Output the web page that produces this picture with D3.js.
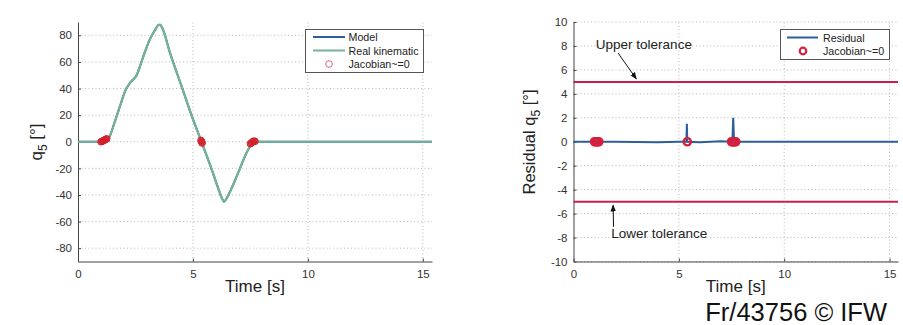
<!DOCTYPE html>
<html>
<head>
<meta charset="utf-8">
<script src="https://cdn.jsdelivr.net/npm/d3@7"></script>
<style>
  body { margin: 0; background: #fff; }
  svg { display: block; font-family: "Liberation Sans", Arial, sans-serif; }
</style>
</head>
<body>
<script>
// joint angle q5 (model and real kinematic overlap)
var timeQ = [0, 1.0, 1.2, 1.35, 1.6, 1.85, 2.05, 2.3, 2.55, 2.8, 3.1, 3.35, 3.48, 3.57, 3.68, 4.0, 4.5, 5.0, 5.35, 5.5, 5.8, 6.1, 6.25, 6.35, 6.45, 6.6, 7.0, 7.4, 7.6, 7.8, 8.0, 15.4];
var q5Values = [0, 0, 0.5, 3, 15, 28, 38, 45, 50, 62, 76, 84, 87.5, 88, 85, 67, 42, 17, 1, -6, -20, -35, -42, -45, -43, -38, -22, -6, -1.5, 0, 0, 0];

// residual of q5
var timeRes = [0, 2, 4, 5.0, 5.36, 5.38, 5.40, 6.0, 7.0, 7.54, 7.58, 7.62, 7.7, 9, 15.4];
var residualValues = [0, 0, -0.05, 0, 0, 1.5, 0, -0.05, 0.05, 0, 2.0, 0, 0, 0, 0];

// Jacobian ~= 0 markers
var jacLeftT = [1.0, 1.05, 1.1, 1.15, 1.2, 1.25, 5.35, 5.38, 5.40, 7.5, 7.55, 7.6, 7.65, 7.7];
var jacLeftY = [0, 0.3, 0.8, 1.2, 1.8, 2.2, 1, 0, -1, -1.5, -0.8, 0, 0.5, 0.3];
var jacRightT = [1.0, 1.05, 1.1, 1.15, 1.2, 5.4, 7.5, 7.55, 7.6, 7.65, 7.7];
var jacRightY = [0, 0, 0, 0, 0, 0, 0, 0, 0, 0, 0];

var tolerance = [5, -5];
var xTicks = [0, 5, 10, 15];
var leftYTicks = [-80, -60, -40, -20, 0, 20, 40, 60, 80];
var rightYTicks = [-10, -8, -6, -4, -2, 0, 2, 4, 6, 8, 10];

var blue = "#2c5f98", green = "#74b396", red = "#d51f3f", tolRed = "#c8204a";

var svg = d3.select("body").append("svg").attr("width", 903).attr("height", 325);

function panel(cfg) {
  var g = svg.append("g");
  var x = d3.scaleLinear().domain([0, 15.4]).range([cfg.left, cfg.right]);
  var y = d3.scaleLinear().domain(cfg.yDomain).range([261.5, 22]);

  // dotted grid
  g.append("g").selectAll("line.v").data(xTicks.filter(function(d){ return d > 0; })).enter().append("line")
    .attr("x1", function(d){ return x(d); }).attr("x2", function(d){ return x(d); })
    .attr("y1", y.range()[0]).attr("y2", y.range()[1])
    .attr("stroke", "#b8b8b8").attr("stroke-dasharray", "1,2.5");
  g.append("g").selectAll("line.h").data(cfg.yTicks).enter().append("line")
    .attr("x1", x.range()[0]).attr("x2", x.range()[1])
    .attr("y1", function(d){ return y(d); }).attr("y2", function(d){ return y(d); })
    .attr("stroke", "#b8b8b8").attr("stroke-dasharray", "1,2.5");

  var fmt = function(d){ return String(d); };
  var xAxis = d3.axisBottom(x).tickValues(xTicks).tickFormat(fmt).tickSizeInner(-3).tickSizeOuter(0).tickPadding(8);
  var yAxis = d3.axisLeft(y).tickValues(cfg.yTicks).tickFormat(fmt).tickSizeInner(-3).tickSizeOuter(0).tickPadding(6);
  var gx = g.append("g").attr("transform", "translate(0," + y.range()[0] + ")").call(xAxis);
  var gy = g.append("g").attr("transform", "translate(" + x.range()[0] + ",0)").call(yAxis);
  [gx, gy].forEach(function(a){
    a.selectAll("path, line").attr("stroke", "#444");
    a.selectAll("text").attr("fill", "#333").style("font-size", "11.5px").style("font-family", "Liberation Sans, Arial, sans-serif");
  });

  g.append("text").attr("x", (x.range()[0] + x.range()[1]) / 2).attr("y", 292)
    .attr("text-anchor", "middle").style("font-size", "17px").attr("fill", "#222").text("Time [s]");

  return { g: g, x: x, y: y };
}

// ---------- left panel ----------
var L = panel({ left: 78, right: 432, yDomain: [-90, 90], yTicks: leftYTicks });
var lineL = d3.line().x(function(d){ return L.x(d[0]); }).y(function(d){ return L.y(d[1]); }).curve(d3.curveMonotoneX);
var qData = d3.zip(timeQ, q5Values);
L.g.append("path").attr("d", lineL(qData)).attr("fill", "none").attr("stroke", blue).attr("stroke-width", 2);
L.g.append("path").attr("d", lineL(qData)).attr("fill", "none").attr("stroke", green).attr("stroke-width", 2.2);
L.g.append("g").selectAll("circle").data(d3.zip(jacLeftT, jacLeftY)).enter().append("circle")
  .attr("cx", function(d){ return L.x(d[0]); }).attr("cy", function(d){ return L.y(d[1]); })
  .attr("r", 3.3).attr("fill", "rgba(220,30,40,0.55)").attr("stroke", "#d0202e").attr("stroke-width", 1);

var yl = svg.append("text").attr("transform", "translate(42,142) rotate(-90)")
  .attr("text-anchor", "middle").style("font-size", "17px").attr("fill", "#222");
yl.append("tspan").text("q");
yl.append("tspan").attr("dy", 5).style("font-size", "12px").text("5");
yl.append("tspan").attr("dy", -5).text(" [°]");

// left legend
var lg = svg.append("g");
lg.append("rect").attr("x", 305.5).attr("y", 29.5).attr("width", 118).attr("height", 43)
  .attr("fill", "#fff").attr("stroke", "#555").attr("stroke-width", 1);
[["Model", blue], ["Real kinematic", green]].forEach(function(e, i){
  var yy = 37 + i * 13.5;
  lg.append("line").attr("x1", 313).attr("x2", 345).attr("y1", yy).attr("y2", yy).attr("stroke", e[1]).attr("stroke-width", 2);
  lg.append("text").attr("x", 348.5).attr("y", yy + 4).style("font-size", "10.7px").attr("fill", "#222").text(e[0]);
});
lg.append("circle").attr("cx", 329).attr("cy", 64).attr("r", 3.3).attr("fill", "none").attr("stroke", "#d86a80").attr("stroke-width", 1);
lg.append("text").attr("x", 348.5).attr("y", 68).style("font-size", "10.7px").attr("fill", "#222").text("Jacobian~=0");

// ---------- right panel ----------
var R = panel({ left: 573.5, right: 898, yDomain: [-10, 10], yTicks: rightYTicks });
tolerance.forEach(function(t){
  R.g.append("line").attr("x1", R.x.range()[0]).attr("x2", R.x.range()[1])
    .attr("y1", R.y(t)).attr("y2", R.y(t)).attr("stroke", tolRed).attr("stroke-width", 2);
});
var lineR = d3.line().x(function(d){ return R.x(d[0]); }).y(function(d){ return R.y(d[1]); });
R.g.append("path").attr("d", lineR(d3.zip(timeRes, residualValues))).attr("fill", "none").attr("stroke", blue).attr("stroke-width", 2);
R.g.append("g").selectAll("circle").data(d3.zip(jacRightT, jacRightY)).enter().append("circle")
  .attr("cx", function(d){ return R.x(d[0]); }).attr("cy", function(d){ return R.y(d[1]); })
  .attr("r", 3.6).attr("fill", "none").attr("stroke", red).attr("stroke-width", 2.4);

var yr = svg.append("text").attr("transform", "translate(535,142) rotate(-90)")
  .attr("text-anchor", "middle").style("font-size", "16.5px").attr("fill", "#222");
yr.append("tspan").text("Residual q");
yr.append("tspan").attr("dy", 5).style("font-size", "12px").text("5");
yr.append("tspan").attr("dy", -5).text(" [°]");

// annotations
svg.append("defs").append("marker").attr("id", "ah").attr("viewBox", "0 0 10 10")
  .attr("refX", 9).attr("refY", 5).attr("markerWidth", 7).attr("markerHeight", 7).attr("orient", "auto")
  .append("path").attr("d", "M0,1 L10,5 L0,9 Z").attr("fill", "#111");
R.g.append("text").attr("x", R.x(1.06)).attr("y", R.y(7.75)).style("font-size", "13.5px").attr("fill", "#222").text("Upper tolerance");
R.g.append("line").attr("x1", R.x(2.12)).attr("y1", R.y(7.4)).attr("x2", R.x(2.98)).attr("y2", R.y(5.25))
  .attr("stroke", "#111").attr("stroke-width", 1).attr("marker-end", "url(#ah)");
R.g.append("text").attr("x", R.x(1.79)).attr("y", R.y(-8.0)).style("font-size", "13.5px").attr("fill", "#222").text("Lower tolerance");
R.g.append("line").attr("x1", R.x(1.9)).attr("y1", R.y(-7.1)).attr("x2", R.x(1.88)).attr("y2", R.y(-5.3))
  .attr("stroke", "#111").attr("stroke-width", 1).attr("marker-end", "url(#ah)");

// right legend
var rg = svg.append("g");
rg.append("rect").attr("x", 780.5).attr("y", 29.5).attr("width", 109).attr("height", 30)
  .attr("fill", "#fff").attr("stroke", "#555").attr("stroke-width", 1);
rg.append("line").attr("x1", 787).attr("x2", 818).attr("y1", 37.5).attr("y2", 37.5).attr("stroke", blue).attr("stroke-width", 2);
rg.append("text").attr("x", 823).attr("y", 41.5).style("font-size", "10.7px").attr("fill", "#222").text("Residual");
rg.append("circle").attr("cx", 803).attr("cy", 51).attr("r", 3.3).attr("fill", "none").attr("stroke", red).attr("stroke-width", 2.2);
rg.append("text").attr("x", 823).attr("y", 55).style("font-size", "10.7px").attr("fill", "#222").text("Jacobian~=0");

svg.append("text").attr("x", 887).attr("y", 321).attr("text-anchor", "end")
  .style("font-size", "25.5px").attr("fill", "#111").text("Fr/43756 © IFW");
</script>
</body>
</html>
